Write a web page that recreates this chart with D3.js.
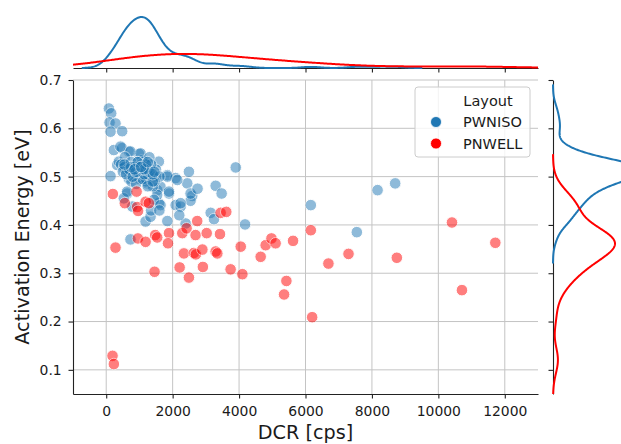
<!DOCTYPE html>
<html>
<head>
<meta charset="utf-8">
<script src="https://cdn.jsdelivr.net/npm/d3@7"></script>
<style>
  body { margin: 0; background: #fff; }
  text { font-family: "DejaVu Sans", sans-serif; fill: #1a1a1a; }
</style>
</head>
<body>
<svg id="chart" width="621" height="444"></svg>
<script>
// data
const layouts = ["PWNISO", "PNWELL"];
const layoutColors = ["#1f77b4", "#ff0000"];

const pwnisoDcr = [80, 150, 100, 280, 130, 480, 130, 230, 480, 680, 985, 330, 630, 1085, 1135, 1585, 1335, 880,
  1840, 2090, 2490, 2440, 1890, 1535, 1235, 630, 530, 785, 1585, 2090, 2240, 2590, 2540, 3295, 3475, 3900,
  1185, 1335, 1840, 2390, 3145, 3245, 4180, 730, 6160, 7545, 8170, 8700, 430, 730, 1035, 1135, 380, 530,
  830, 1500, 680, 1185, 1840, 2140, 1635, 630, 1535, 1890, 2540, 2240, 1435, 1635, 930, 1300, 760, 1000,
  1400, 1500, 1200, 1600, 900, 1100, 1450, 1350, 2200, 1250, 560, 1150, 1250, 2750, 1600, 1050, 1400, 1000,
  450, 550, 650, 750, 850, 950, 1050, 1150, 1250, 1350, 500, 600, 700, 800, 900, 1000, 1100, 1200, 1300, 1400,
  750, 950, 1150, 850, 1050, 1250, 1450, 550];
const pwnisoEa = [0.641, 0.631, 0.612, 0.610, 0.593, 0.594, 0.501, 0.555, 0.559, 0.552, 0.547, 0.524, 0.514, 0.534,
  0.521, 0.531, 0.514, 0.507, 0.503, 0.497, 0.510, 0.486, 0.465, 0.472, 0.486, 0.465, 0.455, 0.438, 0.445,
  0.441, 0.438, 0.460, 0.450, 0.481, 0.465, 0.519, 0.407, 0.417, 0.408, 0.403, 0.425, 0.412, 0.401, 0.370,
  0.441, 0.385, 0.472, 0.486, 0.562, 0.552, 0.548, 0.531, 0.531, 0.517, 0.514, 0.514, 0.496, 0.496, 0.500,
  0.493, 0.479, 0.469, 0.462, 0.469, 0.465, 0.445, 0.452, 0.441, 0.530, 0.540, 0.490, 0.495, 0.480, 0.500,
  0.490, 0.500, 0.485, 0.495, 0.490, 0.430, 0.420, 0.480, 0.540, 0.520, 0.505, 0.475, 0.430, 0.520, 0.490, 0.520,
  0.525, 0.520, 0.515, 0.530, 0.520, 0.510, 0.525, 0.505, 0.515, 0.525, 0.510, 0.505, 0.515, 0.500, 0.510,
  0.520, 0.515, 0.525, 0.510, 0.505, 0.520, 0.530, 0.515, 0.515, 0.520, 0.530, 0.510, 0.525];

const pwnellDcr = [200, 280, 190, 230, 560, 915, 930, 960, 1185, 1285, 955, 1185, 1475, 1535, 1890, 1860, 2290,
  2420, 2740, 2690, 3025, 3425, 3445, 3615, 4050, 4650, 4800, 4975, 5100, 5625, 6160, 2340, 2640, 2700, 2895,
  3295, 3345, 1455, 2210, 2490, 2910, 3745, 4100, 5425, 5355, 6200, 6690, 7295, 8750, 10410, 11715, 10710];
const pwnellEa = [0.464, 0.353, 0.129, 0.112, 0.445, 0.469, 0.437, 0.429, 0.448, 0.445, 0.372, 0.365, 0.379, 0.374,
  0.383, 0.362, 0.383, 0.393, 0.408, 0.379, 0.383, 0.381, 0.425, 0.427, 0.355, 0.334, 0.358, 0.372, 0.362,
  0.367, 0.389, 0.341, 0.342, 0.339, 0.349, 0.345, 0.341, 0.303, 0.312, 0.291, 0.313, 0.308, 0.298, 0.284,
  0.256, 0.209, 0.320, 0.340, 0.332, 0.405, 0.363, 0.265];

const xTicks = [0, 2000, 4000, 6000, 8000, 10000, 12000];
const yTicks = [0.1, 0.2, 0.3, 0.4, 0.5, 0.6, 0.7];

// bandwidth factors on top of scott's rule, per layout and axis
const groups = [
  { name: layouts[0], color: layoutColors[0], xs: pwnisoDcr, ys: pwnisoEa, bwX: 0.5, bwY: 0.9 },
  { name: layouts[1], color: layoutColors[1], xs: pwnellDcr, ys: pwnellEa, bwX: 1.1, bwY: 0.8 }
];

const svg = d3.select("#chart");
const box = { left: 73, right: 538, top: 80, bottom: 394 };
const topBase = 68, rightBase = 553;

const x = d3.scaleLinear().domain([-1000, 13000]).range([box.left, box.right]);
const y = d3.scaleLinear().domain([0.05, 0.7]).range([box.bottom, box.top]);

// gaussian kde, each layout normalised on its own
function kde(vals, adjust, lo, hi) {
  const bw = adjust * d3.deviation(vals) * Math.pow(vals.length, -0.2);
  const a = Math.max(lo, d3.min(vals) - 3 * bw);
  const b = Math.min(hi, d3.max(vals) + 3 * bw);
  const k = 1 / (vals.length * bw * Math.sqrt(2 * Math.PI));
  return d3.range(401).map(i => {
    const t = a + (b - a) * i / 400;
    let s = 0;
    for (const v of vals) s += Math.exp(-0.5 * ((t - v) / bw) ** 2);
    return [t, s * k];
  });
}

groups.forEach(g => {
  g.kx = kde(g.xs, g.bwX, -1000, 13000);
  g.ky = kde(g.ys, g.bwY, 0.05, 0.7);
});

// grid
const grid = svg.append("g").attr("stroke", "#c4c4c4").attr("stroke-width", 1);
grid.selectAll("line.gx").data(xTicks).join("line")
  .attr("x1", d => x(d)).attr("x2", d => x(d))
  .attr("y1", box.top).attr("y2", box.bottom);
grid.selectAll("line.gy").data(yTicks).join("line")
  .attr("x1", box.left).attr("x2", box.right)
  .attr("y1", d => y(d)).attr("y2", d => y(d));

// points
groups.forEach(g => {
  svg.append("g").selectAll("circle")
    .data(d3.zip(g.xs, g.ys)).join("circle")
    .attr("cx", d => x(d[0]))
    .attr("cy", d => y(d[1]))
    .attr("r", 5.8)
    .attr("fill", g.color)
    .attr("stroke", "#fff")
    .attr("stroke-width", 1)
    .attr("opacity", 0.5);
});

// main axes
const xAxis = svg.append("g").attr("transform", `translate(0,${box.bottom})`)
  .call(d3.axisBottom(x).tickValues(xTicks).tickFormat(d3.format("d"))
    .tickSize(4.5).tickPadding(7.5).tickSizeOuter(0));
const yAxis = svg.append("g").attr("transform", `translate(${box.left},0)`)
  .call(d3.axisLeft(y).tickValues(yTicks).tickFormat(d3.format(".1f"))
    .tickSize(4.5).tickPadding(6.8).tickSizeOuter(0));
[xAxis, yAxis].forEach(a => {
  a.attr("font-family", null).attr("font-size", null);
  a.selectAll("text").attr("font-size", 13.9).attr("fill", "#1a1a1a");
  a.selectAll("line, path").attr("stroke", "#222").attr("stroke-width", 1.1);
});

svg.append("text")
  .attr("x", (box.left + box.right) / 2).attr("y", 439)
  .attr("text-anchor", "middle").attr("font-size", 19.2)
  .text("DCR [cps]");
svg.append("text")
  .attr("transform", `translate(29,${(box.top + box.bottom) / 2}) rotate(-90)`)
  .attr("text-anchor", "middle").attr("font-size", 19.2)
  .text("Activation Energy [eV]");

// top marginal
const topMax = d3.max(groups, g => d3.max(g.kx, d => d[1]));
const dTop = d3.scaleLinear().domain([0, topMax]).range([topBase, 17]);
const topAxis = svg.append("g").attr("transform", `translate(0,${topBase})`)
  .call(d3.axisBottom(x).tickValues(xTicks).tickSize(4.5).tickFormat("").tickSizeOuter(0));
topAxis.selectAll("line, path").attr("stroke", "#222").attr("stroke-width", 1.1);

groups.forEach(g => {
  svg.append("path")
    .datum(g.kx)
    .attr("fill", "none")
    .attr("stroke", g.color)
    .attr("stroke-width", 2)
    .attr("d", d3.line().x(d => x(d[0])).y(d => dTop(d[1])));
});

// right marginal
const redRightMax = d3.max(groups[1].ky, d => d[1]);
const dRight = d3.scaleLinear().domain([0, redRightMax]).range([rightBase, 615]);
const rightAxis = svg.append("g").attr("transform", `translate(${rightBase},0)`)
  .call(d3.axisLeft(y).tickValues(yTicks).tickSize(4.5).tickFormat("").tickSizeOuter(0));
rightAxis.selectAll("line, path").attr("stroke", "#222").attr("stroke-width", 1.1);

groups.forEach(g => {
  svg.append("path")
    .datum(g.ky)
    .attr("fill", "none")
    .attr("stroke", g.color)
    .attr("stroke-width", 2)
    .attr("d", d3.line().x(d => dRight(d[1])).y(d => y(d[0])));
});

// legend
const legend = svg.append("g").attr("transform", "translate(415,87)");
legend.append("rect")
  .attr("width", 115).attr("height", 70).attr("rx", 3)
  .attr("fill", "#fff").attr("fill-opacity", 0.8)
  .attr("stroke", "#cccccc").attr("stroke-width", 1);
legend.append("text")
  .attr("x", 73).attr("y", 18.5).attr("text-anchor", "middle")
  .attr("font-size", 14.5).text("Layout");
const items = legend.selectAll("g.item").data(groups).join("g")
  .attr("class", "item")
  .attr("transform", (d, i) => `translate(0,${35 + i * 21.5})`);
items.append("circle").attr("cx", 21).attr("cy", 0).attr("r", 5.5)
  .attr("fill", d => d.color).attr("stroke", "#fff").attr("stroke-width", 0.8);
items.append("text").attr("x", 48).attr("y", 5.4)
  .attr("font-size", 14.5).text(d => d.name);
</script>
</body>
</html>
